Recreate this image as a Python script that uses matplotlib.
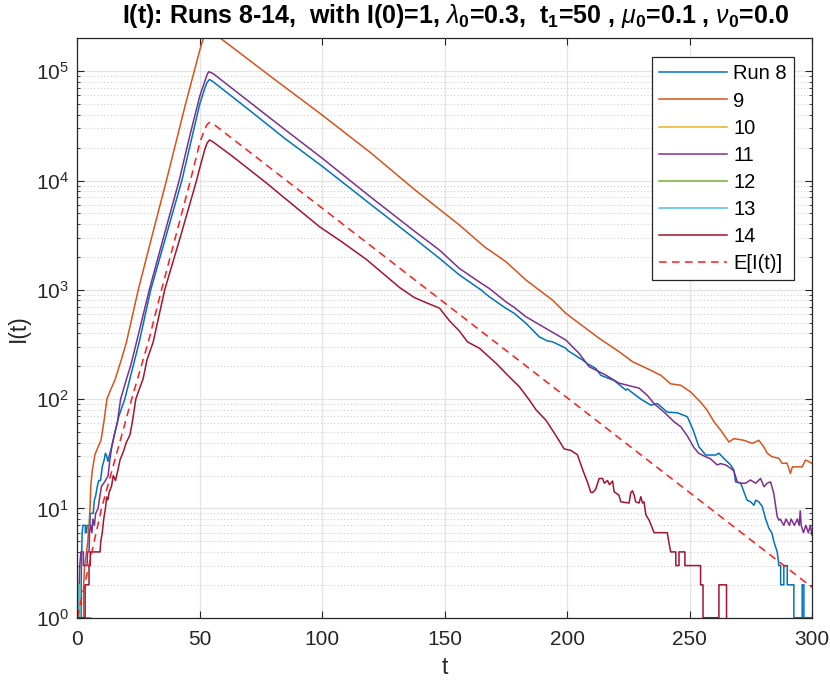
import matplotlib
matplotlib.use('Agg')
import matplotlib.pyplot as plt
from matplotlib.ticker import LogLocator, NullFormatter, NullLocator

plt.rcParams['font.family'] = ['Liberation Sans', 'DejaVu Sans']
plt.rcParams['mathtext.fontset'] = 'custom'
plt.rcParams['mathtext.rm'] = 'Liberation Sans'
plt.rcParams['mathtext.it'] = 'Liberation Sans:italic'
plt.rcParams['mathtext.bf'] = 'Liberation Sans:bold'

# Run 8
t8 = [0, 1.6, 1.6, 1.7, 1.8, 2.0, 2.3, 3.3, 3.3, 3.8, 4.0, 5.2, 5.3, 6.5, 7.0, 7.5, 8.2,
      8.8, 9.5, 10.2, 11.0, 11.5, 12.0, 12.5, 13.0, 13.5, 14.5, 15.4, 17, 19.4, 22, 25.3,
      30, 42.7, 50, 52, 53, 54, 55.5, 70, 85, 100, 120, 137.6, 147.9, 156, 164.8, 168.2,
      175, 178.4, 183.2, 188.6, 192, 194, 199.5, 200.2, 206.3, 208.3, 211.7, 213.8, 218.5,
      219.2, 224, 224.6, 230.1, 234.2, 236.9, 240.9, 245, 249.1, 251.5,
      253.8, 256.6, 260.7, 262, 264, 266.8, 268.1, 268.8, 270.9, 272.2, 273.5, 274.9,
      276.3, 277, 278.3, 279.7, 281, 282.4, 283.7, 284.4, 285.8, 286.5, 287.2, 287.2,
      288.5, 288.5, 289.9, 289.9, 292.6, 292.6, 296.0, 296.0, 296.7, 296.7, 300]
i8 = [1, 1, 2, 3, 4, 6, 7, 7, 6, 6, 7, 7, 9, 9, 12, 13, 16,
      18, 18, 24, 28, 32, 30, 27, 30, 33, 40, 50, 70, 100, 170, 333,
      1000, 1e4, 5.0e4, 6.9e4, 7.9e4, 8.4e4, 8.0e4, 4.45e4, 2.4e4, 1.35e4, 6.0e3, 2.96e3, 1.94e3, 1.37e3, 1.0e3, 865,
      678, 610, 494, 372, 340, 335, 292, 279, 228, 211, 191, 165, 150,
      148, 121, 124, 100, 88, 91, 76, 75, 69, 52,
      36.7, 30.8, 30.8, 32, 28.7, 25, 22.4, 17.5, 17, 14.2, 11.9, 11.5,
      10.7, 11.9, 11.5, 10.4, 8.1, 6.6, 5.9, 5, 4, 3, 3, 2,
      2, 3, 3, 2, 2, 1, 1, 2, 2, 1, 1]

# Run 9
t9 = [0, 2.6, 2.6, 3.0, 3.8, 4.3, 4.8, 5.2, 5.5, 6.1, 7.2, 8.6, 9.7, 11, 12.1, 13.5, 15.4,
      18, 20.1, 24.9, 30, 36.4, 44, 50, 52, 54, 56, 58.5, 80, 100, 120, 137.6, 147.9,
      156, 166.2, 175, 183.2, 188.6, 194, 199.5, 204.9, 213.1, 221.2, 226.7, 232.8, 238.3,
      242.3, 246.4, 250.5, 254.5, 257.2, 260, 262.7, 266.1, 268.1, 272.2, 275.6, 278.3,
      280.3, 281.7, 283.7, 286.5, 287.8, 289.8, 291.2, 292, 293.3, 296, 297.3, 298.5, 300]
i9 = [1, 1, 2, 3, 4, 5, 7, 10, 16, 22, 31, 37, 42, 65, 100, 120, 150,
      230, 333, 1000, 2800, 1e4, 4.8e4, 1.55e5, 2.2e5, 2.4e5, 2.3e5, 2.0e5, 8.6e4, 3.97e4, 1.78e4, 8.3e3, 5.45e3,
      3.92e3, 2.48e3, 1.81e3, 1.23e3, 995, 807, 610, 494, 360, 272, 220, 190, 165,
      138, 134, 116, 94, 79, 62, 52, 40.5, 43.5, 42, 39.4, 42,
      36.7, 32, 29.7, 28.7, 25.8, 26, 20.9, 24, 24, 24, 27.7, 27, 25.8]

# Run 10
t10 = [0, 0.3]
i10 = [1, 1]

# Run 11
t11 = [0, 0.8, 0.8, 1.0, 1.5, 2.5, 2.5, 4.0, 4.2, 4.8, 5.0, 5.5, 6.0, 6.4, 7.0, 7.5, 8.5,
       9.0, 9.9, 10.8, 11.5, 12.6, 13.3, 14.2, 15.4, 16.3, 17.7, 20, 22, 24.2, 29.4, 35,
       41.6, 46, 50, 52, 53, 53.7, 55.5, 70, 85, 100, 120, 137.6, 147.9, 156, 164.9, 168.2,
       175, 178.4, 183.2, 191.3, 199.5, 204.9, 209, 215.8, 221.2, 229.4, 232.8, 235.5,
       239.6, 243.7, 246.4,
       249.1, 251.8, 253.8, 256.6, 258.5, 261.3, 262.7, 264.7, 266.8, 268.1, 269.5, 270.9,
       272.8, 274.9, 277, 279, 280.4, 281.7, 283.1, 284.4, 285.8, 286.5, 287, 288.5, 289.4,
       290.8, 291.5, 292.8, 294, 294.8, 295.2, 295.6, 296.5, 297.5, 298.5, 299.3, 300]
i11 = [1, 1, 2, 3, 4, 4, 3, 3, 4, 4, 6, 7, 6, 8, 7, 9, 10,
       12, 16, 17, 18, 20, 28, 38, 50, 60, 100, 150, 210, 333, 1000, 2900,
       1e4, 2.6e4, 5.9e4, 8.0e4, 9.3e4, 9.9e4, 9.5e4, 5.3e4, 2.9e4, 1.6e4, 7.0e3, 3.45e3, 2.31e3, 1.57e3, 1.15e3, 1.03e3,
       778, 690, 567, 444, 347, 262, 198, 166, 140, 126, 108, 91,
       76, 62, 56,
       46, 36, 31.9, 29.7, 28.5, 25, 25.7, 25, 23.3, 22, 17.5, 17,
       17, 18.2, 17, 18.8, 15.8, 17, 17.5, 13.7, 8.4, 7.8, 8, 7, 8,
       7, 8, 7, 8, 7, 9.5, 7, 6, 7, 6, 7, 5.7]

# Run 12
t12 = [0, 0.2, 0.5, 0.7, 1.1, 1.4, 5.4]
i12 = [1, 2, 1, 2, 2, 1, 1]

# Run 13
t13 = [0, 0.8, 0.8, 1.0, 1.0, 2.0]
i13 = [1, 1, 2, 2, 1, 1]

# Run 14
t14 = [0, 3.2, 3.2, 4.8, 4.8, 5.3, 5.3, 9.3, 9.6, 10.2, 10.8, 11.5, 12, 12.5, 13, 14, 14.7,
       15.6, 16.5, 17.5, 18.8, 20, 21.5, 22.5, 23.9, 24.9, 26.9, 28.5, 31, 35.7, 42, 48.7,
       50, 52, 53, 54, 55.5, 63.6, 77.2, 88, 98.9, 108, 118, 131.6, 137.6, 142, 147.9, 152,
       156, 159.4, 164.2, 171, 176.4, 180.5, 184.6, 187.3, 191.4, 194, 196.1, 198.8, 201.5,
       204.2, 206.9, 208.3, 209.7, 210.5, 211.7, 213.1, 214.5, 215.2, 216.5, 217.3, 218.6,
       219.2, 221.2, 221.9, 225.3, 226, 226.7, 227.4, 228, 229.4, 230.1, 230.8, 231.4,
       232.2, 233.5, 234.8, 235.5, 240.9, 241.5, 242.3, 244.4, 244.4, 245.7, 245.7, 248.1,
       248.1, 254.5, 254.5, 255.5, 255.5, 262, 262, 265.1, 265.1]
i14 = [1, 1, 2, 2, 3, 3, 4, 4, 5, 6, 8, 10, 12.7, 12, 14, 16, 20,
       18, 22, 28, 33, 40, 47, 62, 100, 116, 154, 230, 333, 1000, 3000, 1e4,
       1.3e4, 1.9e4, 2.2e4, 2.35e4, 2.25e4, 1.65e4, 9.5e3, 6.0e3, 3.78e3, 2.75e3, 1.9e3, 1.05e3, 850, 770, 680, 520,
       420, 333, 292, 213, 160, 130, 98, 80, 64, 52, 44, 35, 34,
       31, 21, 17.5, 14, 14, 15, 18.8, 18.8, 17, 18, 16.5, 17.8,
       14.2, 13.2, 11.5, 11.2, 13.9, 14.5, 13.2, 11.5, 11.2, 12.8, 11.2, 11.5,
       8.7, 7.8, 6.6, 6, 6, 5, 4, 4, 3, 3, 4, 4,
       3, 3, 2, 2, 1, 1, 2, 2, 1]

# E[I(t)]
t_mean = [0, 9.9, 22.2, 29, 34.4, 46.2, 50, 52, 53, 54, 55.5, 300]
i_mean = [1, 10, 100, 333, 1000, 1e4, 2.2e4, 2.95e4, 3.25e4, 3.4e4, 3.3e4, 1.9]

runs = [(t8, i8, 'Run 8'), (t9, i9, '9'), (t10, i10, '10'), (t11, i11, '11'),
        (t12, i12, '12'), (t13, i13, '13'), (t14, i14, '14')]
colors = ['#0072BD', '#D95319', '#EDB120', '#7E2F8E', '#77AC30', '#4DBEEE', '#A2142F']

fig = plt.figure(figsize=(8.3, 6.84), dpi=100)
ax = fig.add_axes([0.0931, 0.0969, 0.8852, 0.8471])

for (t, v, lab), c in zip(runs, colors):
    ax.plot(t, v, color=c, lw=1.1, label=lab)
ax.plot(t_mean, i_mean, color='#ff1a1a', lw=1.1, ls=(0, (5, 3.5)), label='E[I(t)]')

ax.set_yscale('log')
ax.set_xlim(0, 300)
ax.set_ylim(1, 2e5)
ax.set_xticks([0, 50, 100, 150, 200, 250, 300])
ax.yaxis.set_major_locator(LogLocator(base=10, numticks=10))
ax.yaxis.set_minor_locator(LogLocator(base=10, subs=range(2, 10), numticks=20))
ax.yaxis.set_minor_formatter(NullFormatter())
ax.xaxis.set_minor_locator(NullLocator())

ax.set_axisbelow(True)
ax.grid(True, which='major', color='#e3e3e3', lw=0.9)
ax.yaxis.grid(True, which='minor', color='#cfcfcf', lw=0.8, ls=(0, (1, 2)))

ax.tick_params(which='both', direction='in', top=True, right=True, colors='#262626')
ax.tick_params(which='major', length=5, width=0.8, labelsize=15)
ax.tick_params(axis='x', which='major', pad=9)
ax.tick_params(axis='y', which='major', pad=6)
ax.tick_params(which='minor', length=2.5, width=0.6)
for s in ax.spines.values():
    s.set_color('#262626')
    s.set_linewidth(0.9)

ax.set_xlabel('t', fontsize=16.5, color='#262626', labelpad=5)
ax.set_ylabel('I(t)', fontsize=16.5, color='#262626', labelpad=4)
ax.set_title(r'I(t): Runs 8-14,  with I(0)=1, $\lambda_{\mathbf{0}}$=0.3,  t$_{\mathbf{1}}$=50 , '
             r'$\mu_{\mathbf{0}}$=0.1 , $\nu_{\mathbf{0}}$=0.0',
             fontsize=18, fontweight='bold', pad=11, x=0.515)

leg = ax.legend(loc='upper right', bbox_to_anchor=(0.9755, 0.967), fontsize=14.5,
                fancybox=False, framealpha=1, edgecolor='#262626', handlelength=3.4,
                handletextpad=0.3, borderpad=0.35, labelspacing=0.4, borderaxespad=0)
leg.get_frame().set_linewidth(0.9)

fig.savefig('out.png', dpi=100)
